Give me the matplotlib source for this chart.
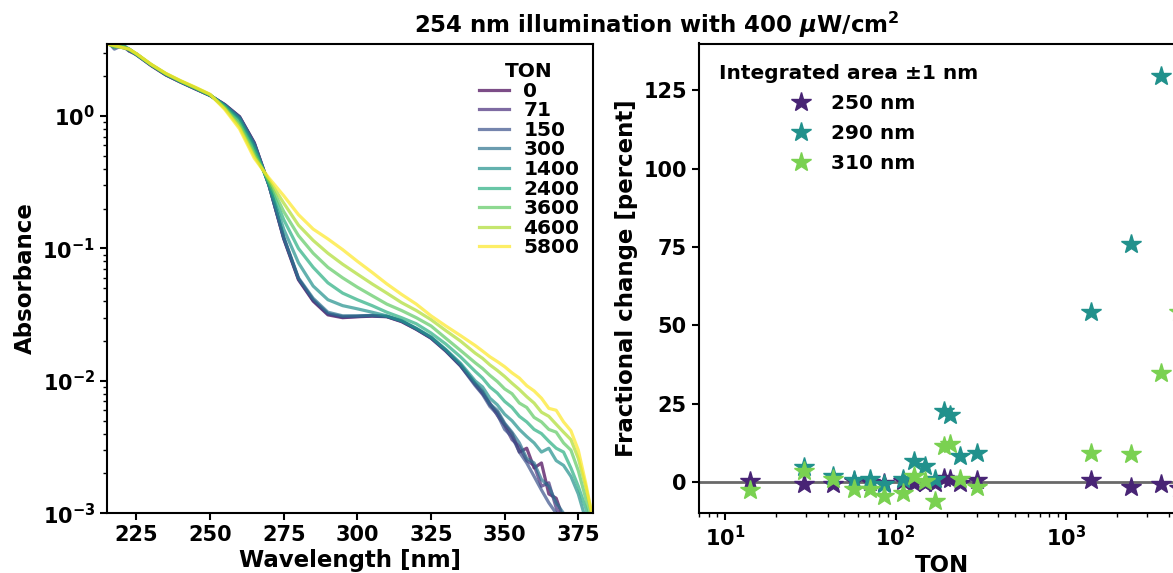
import numpy as np
import matplotlib
matplotlib.use("Agg")
import matplotlib.pyplot as plt

# ---------------- data ----------------
wavelength = [215, 217.5, 220, 222.5, 225, 230, 235, 240, 245, 250,
              255, 260, 265, 270, 275, 280, 285, 290, 295, 300, 305, 310,
              315, 320, 325, 330, 335,
              340, 342.5, 345, 347.5, 350, 352.5, 355, 357.5, 360, 362.5,
              365, 367.5, 370, 372.5, 375, 377.5, 380]

abs_ton0 = [3.6, 3.3, 3.5, 3.1, 2.9, 2.4, 2.04, 1.80, 1.60, 1.43,
            1.22, 0.99, 0.63, 0.30, 0.118, 0.058, 0.040, 0.0315, 0.030, 0.0305, 0.0308, 0.0305,
            0.028, 0.0245, 0.021, 0.0168, 0.013,
            0.0095, 0.0082, 0.0066, 0.0058, 0.0047, 0.0040, 0.0029, 0.0031, 0.0022, 0.0024,
            0.0014, 0.0013, 0.0009, 0.0007, 0.0005, 0.0004, 0.0003]
abs_ton71 = [3.5, 3.4, 3.3, 3.2, 2.9, 2.42, 2.05, 1.81, 1.61, 1.43,
             1.22, 0.985, 0.625, 0.30, 0.12, 0.059, 0.0405, 0.032, 0.0303, 0.0306, 0.031, 0.0306,
             0.0282, 0.0246, 0.0212, 0.017, 0.0131,
             0.0094, 0.0080, 0.0068, 0.0055, 0.0046, 0.0036, 0.0032, 0.0025, 0.0023, 0.0016,
             0.0017, 0.0011, 0.0008, 0.0006, 0.0005, 0.0004, 0.0003]
abs_ton150 = [3.7, 3.2, 3.4, 3.1, 2.95, 2.42, 2.05, 1.81, 1.61, 1.43,
              1.21, 0.98, 0.62, 0.30, 0.12, 0.059, 0.041, 0.0322, 0.0306, 0.0308, 0.0312, 0.0307,
              0.0283, 0.0247, 0.0211, 0.0169, 0.013,
              0.0092, 0.0079, 0.0064, 0.0056, 0.0043, 0.0038, 0.0029, 0.0024, 0.0019, 0.0015,
              0.0012, 0.0010, 0.0007, 0.0006, 0.0005, 0.0004, 0.0003]
abs_ton300 = [3.6, 3.3, 3.5, 3.2, 2.9, 2.43, 2.06, 1.81, 1.61, 1.43,
              1.21, 0.975, 0.615, 0.30, 0.122, 0.06, 0.042, 0.033, 0.031, 0.031, 0.0312, 0.0307,
              0.0284, 0.0248, 0.0213, 0.0171, 0.0133,
              0.0096, 0.0084, 0.0067, 0.0060, 0.0048, 0.0041, 0.0034, 0.0026, 0.0024, 0.0018,
              0.0016, 0.0012, 0.0010, 0.0008, 0.0006, 0.0005, 0.0004]
abs_ton1400 = [3.6, 3.35, 3.4, 3.15, 2.92, 2.43, 2.07, 1.82, 1.62, 1.44,
               1.20, 0.95, 0.59, 0.30, 0.14, 0.078, 0.052, 0.041, 0.037, 0.035, 0.033, 0.031,
               0.0285, 0.025, 0.0215, 0.0173, 0.0136,
               0.0100, 0.0090, 0.0074, 0.0066, 0.0056, 0.0050, 0.0043, 0.0038, 0.0034, 0.0029,
               0.0031, 0.0025, 0.0023, 0.0019, 0.0014, 0.0009, 0.0006]
abs_ton2400 = [3.5, 3.4, 3.3, 3.2, 2.93, 2.44, 2.08, 1.83, 1.63, 1.44,
               1.18, 0.91, 0.56, 0.31, 0.165, 0.10, 0.072, 0.055, 0.046, 0.041, 0.037, 0.033,
               0.030, 0.027, 0.023, 0.019, 0.0152,
               0.0118, 0.0105, 0.0090, 0.0081, 0.0070, 0.0063, 0.0054, 0.0049, 0.0043, 0.0040,
               0.0035, 0.0031, 0.0029, 0.0022, 0.0016, 0.0011, 0.0007]
abs_ton3600 = [3.6, 3.3, 3.4, 3.2, 2.94, 2.44, 2.08, 1.83, 1.63, 1.45,
               1.16, 0.87, 0.53, 0.32, 0.19, 0.125, 0.092, 0.072, 0.060, 0.051, 0.044, 0.038,
               0.034, 0.030, 0.026, 0.021, 0.017,
               0.0137, 0.0124, 0.0110, 0.0099, 0.0087, 0.0080, 0.0068, 0.0063, 0.0053, 0.0049,
               0.0043, 0.0041, 0.0034, 0.0030, 0.0021, 0.0013, 0.0008]
abs_ton4600 = [3.5, 3.4, 3.3, 3.2, 2.95, 2.45, 2.09, 1.84, 1.64, 1.45,
               1.14, 0.83, 0.50, 0.33, 0.22, 0.15, 0.115, 0.092, 0.076, 0.064, 0.054, 0.046,
               0.039, 0.034, 0.029, 0.024, 0.020,
               0.0162, 0.0148, 0.0132, 0.0120, 0.0108, 0.0096, 0.0086, 0.0076, 0.0068, 0.0058,
               0.0054, 0.0047, 0.0041, 0.0036, 0.0026, 0.0016, 0.0009]
abs_ton5800 = [3.5, 3.4, 3.3, 3.2, 2.96, 2.46, 2.10, 1.85, 1.65, 1.46,
               1.12, 0.80, 0.48, 0.34, 0.25, 0.18, 0.14, 0.118, 0.098, 0.080, 0.066, 0.054,
               0.045, 0.038, 0.031, 0.026, 0.022,
               0.0185, 0.0168, 0.0152, 0.0140, 0.0128, 0.0115, 0.0105, 0.0092, 0.0084, 0.0074,
               0.0062, 0.0060, 0.0049, 0.0042, 0.0030, 0.0017, 0.0009]

spectra_labels = ["0", "71", "150", "300", "1400", "2400", "3600", "4600", "5800"]
spectra = [abs_ton0, abs_ton71, abs_ton150, abs_ton300, abs_ton1400,
           abs_ton2400, abs_ton3600, abs_ton4600, abs_ton5800]

ton_points = [14, 29, 43, 57, 71, 86, 111, 129, 148, 171, 192, 210, 240, 300,
              1400, 2400, 3600, 4600]
change_250 = [0.3, -0.6, -0.6, 0.3, 0.0, -0.3, 0.3, -0.3, -0.3, -0.3, 1.3, 1.0, -0.3, 0.5,
              0.5, -1.5, -0.8, -1.8]
change_290 = [np.nan, 4.9, 1.9, 0.5, 0.8, -0.8, 0.8, 6.6, 5.0, 0.8, 22.6, 21.5, 8.2, 9.1,
              54.3, 75.9, 129.5, np.nan]
change_310 = [-2.7, 3.4, 1.1, -2.1, -2.4, -4.5, -3.4, 1.9, 0.3, -6.1, 11.4, 12.0, 1.1, -1.5,
              9.3, 8.8, 34.9, 54.4]
series_labels = ["250 nm", "290 nm", "310 nm"]

# ---------------- style ----------------
plt.rcParams['font.family'] = ['DejaVu Sans']
plt.rcParams['font.weight'] = 'bold'
plt.rcParams['axes.labelweight'] = 'bold'
plt.rcParams['font.size'] = 14

W, H = 1173, 573
fig = plt.figure(figsize=(W / 100, H / 100), dpi=100)

def box(l, t, r, b):
    return [l / W, 1 - b / H, (r - l) / W, (b - t) / H]

ax1 = fig.add_axes(box(107, 43.5, 593, 513.3))
ax2 = fig.add_axes(box(698.7, 43.5, 698.7 + 486, 513.3))

cols = plt.cm.viridis(np.linspace(0, 1, len(spectra)))
for y, lab, c in zip(spectra, spectra_labels, cols):
    ax1.plot(wavelength, y, color=c, alpha=0.7, lw=2.3, label=lab)
ax1.set_yscale('log')
ax1.set_xlim(215, 380)
ax1.set_ylim(1e-3, 3.53)
ax1.set_xlabel('Wavelength [nm]', fontsize=16.5, labelpad=3)
ax1.set_ylabel('Absorbance', fontsize=16.5)
ax1.legend(title='TON', frameon=False, loc='upper right', bbox_to_anchor=(1.005, 0.995),
           fontsize=14.5, title_fontproperties={'weight': 'bold', 'size': 14.5},
           labelspacing=0.03, handlelength=1.5, handletextpad=0.7, borderpad=0.3)

scol = [plt.cm.viridis(0.1), plt.cm.viridis(0.5), plt.cm.viridis(0.8)]
ax2.axhline(0, color='dimgray', lw=2, zorder=1)
for yv, lab, c in zip([change_250, change_290, change_310], series_labels, scol):
    ax2.plot(ton_points, yv, ls='none', marker='*', ms=15, color=c, label=lab, zorder=2)
ax2.set_xscale('log')
ax2.set_xlim(7, 10 ** 3.697)
ax2.set_ylim(-10, 140)
ax2.set_yticks([0, 25, 50, 75, 100, 125])
ax2.set_xlabel('TON', fontsize=16.5, labelpad=3)
ax2.set_ylabel('Fractional change [percent]', fontsize=16.5)
ax2.legend(title='Integrated area \u00b11 nm', frameon=False, loc='upper left',
           fontsize=14.5, title_fontproperties={'weight': 'bold', 'size': 14.5},
           labelspacing=0.55, borderpad=0.5, handletextpad=0.5)

for ax in (ax1, ax2):
    for s in ax.spines.values():
        s.set_linewidth(1.5)
    ax.tick_params(which='major', width=1.5, length=5, labelsize=15)
    ax.tick_params(which='minor', width=1.0, length=3)

fig.text(657 / W, 1 - 25 / H, r'254 nm illumination with 400 $\mu$W/cm$^2$',
         ha='center', va='center', fontsize=16.5, fontweight='bold')

fig.savefig('out.png', dpi=100)
